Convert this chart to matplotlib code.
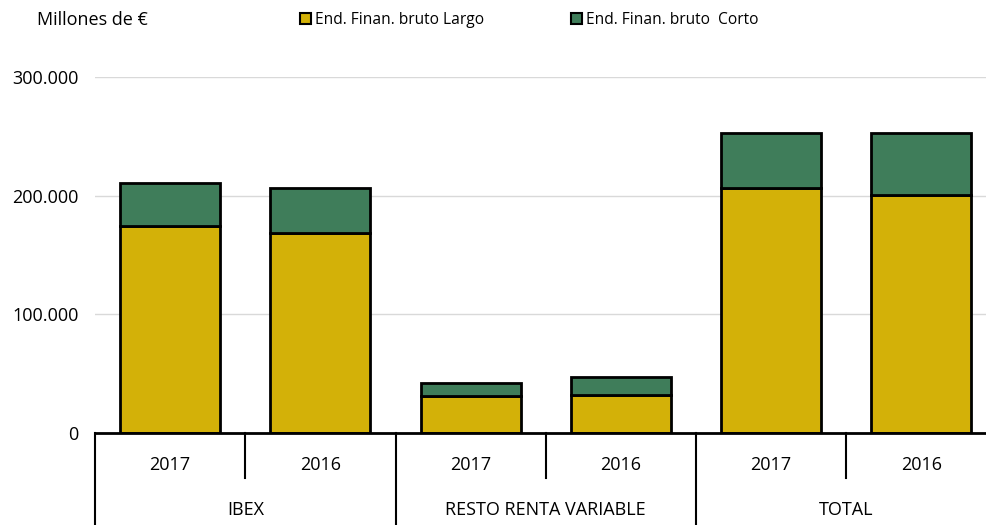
import numpy as np
import matplotlib.pyplot as plt
from matplotlib.ticker import FuncFormatter
from matplotlib.patches import Patch

groups = ["IBEX", "RESTO RENTA VARIABLE", "TOTAL"]
years = ["2017", "2016"]
largo = [174500, 168500, 31200, 32000, 206500, 200500]
corto = [36300, 38000, 10900, 15200, 46300, 52500]

plt.rcParams['font.family'] = ['Open Sans', 'DejaVu Sans']

fig = plt.figure(figsize=(9.86, 5.25), dpi=100)
ax = fig.add_axes([95 / 986, 92 / 525, 891 / 986, 356 / 525])

x = np.arange(len(largo))
col_largo = "#d3b108"
col_corto = "#3f7d5a"
w = 0.665
ax.bar(x, largo, w, color=col_largo, edgecolor="black", linewidth=2, zorder=3,
       label="End. Finan. bruto Largo")
ax.bar(x, corto, w, bottom=largo, color=col_corto, edgecolor="black", linewidth=2,
       zorder=3, label="End. Finan. bruto  Corto")

ax.set_xlim(-0.5, 5.43)
ax.set_ylim(0, 300000)
ax.set_yticks([0, 100000, 200000, 300000])
ax.yaxis.set_major_formatter(FuncFormatter(
    lambda v, p: "0" if v == 0 else "{:,.0f}".format(v).replace(",", ".")))
ax.tick_params(axis='y', length=0, labelsize=13, pad=12)
ax.tick_params(axis='x', length=0, labelbottom=False)
ax.grid(axis='y', color="#d9d9d9", linewidth=1, zorder=0)
for s in ["top", "right", "left"]:
    ax.spines[s].set_visible(False)
ax.spines["bottom"].set_linewidth(2)
ax.spines["bottom"].set_zorder(4)

tr = ax.get_xaxis_transform()
for i in range(len(largo) + 1):
    xs = i - 0.5
    if i % 2 == 0:
        ax.plot([xs, xs], [0, -0.258], color="black", lw=1.5, transform=tr, clip_on=False)
    else:
        ax.plot([xs, xs], [0, -0.126], color="black", lw=1.5, transform=tr, clip_on=False)
for i in range(len(largo)):
    ax.text(i, -0.09, years[i % 2], transform=tr, ha="center", va="center", fontsize=13)
for g, name in enumerate(groups):
    ax.text(2 * g + 0.5, -0.216, name, transform=tr, ha="center", va="center", fontsize=13)

fig.text(37 / 986, 1 - 20 / 525, "Millones de €", ha="left", va="center", fontsize=13)
handles = [Patch(facecolor=col_largo, edgecolor="black", linewidth=1.5),
           Patch(facecolor=col_corto, edgecolor="black", linewidth=1.5)]
leg = fig.legend(handles, ["End. Finan. bruto Largo", "End. Finan. bruto  Corto"],
                 loc="center left", bbox_to_anchor=(300 / 986, 1 - 20 / 525), ncol=2,
                 frameon=False, fontsize=11.2, handlelength=0.7, handleheight=0.7,
                 handletextpad=0.25, columnspacing=5.6, borderaxespad=0, borderpad=0)

fig.savefig("out.png", dpi=100)
